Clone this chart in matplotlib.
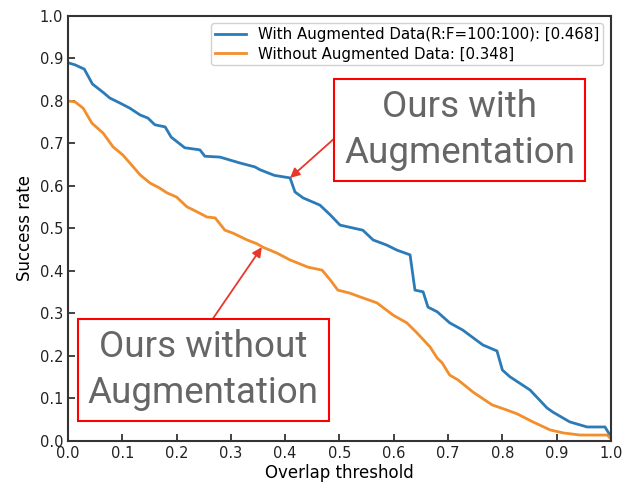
import numpy as np
import matplotlib
matplotlib.use("Agg")
import matplotlib.pyplot as plt

# success rate curves
x_with = [0.0, 0.013, 0.03, 0.045, 0.065, 0.077, 0.096, 0.114, 0.133, 0.147, 0.16, 0.179,
          0.19, 0.215, 0.243, 0.252, 0.28, 0.317, 0.344, 0.354, 0.38, 0.409, 0.418, 0.433,
          0.464, 0.483, 0.501, 0.543, 0.562, 0.587, 0.606, 0.63, 0.639, 0.654, 0.663, 0.68,
          0.703, 0.727, 0.764, 0.786, 0.79, 0.8, 0.814, 0.851, 0.882, 0.893, 0.924, 0.956,
          0.989, 1.0]
y_with = [0.89, 0.885, 0.875, 0.84, 0.82, 0.807, 0.795, 0.783, 0.767, 0.76, 0.744, 0.739,
          0.715, 0.69, 0.685, 0.67, 0.668, 0.654, 0.645, 0.638, 0.625, 0.619, 0.586, 0.572,
          0.555, 0.532, 0.508, 0.496, 0.473, 0.461, 0.449, 0.438, 0.355, 0.351, 0.315, 0.304,
          0.278, 0.261, 0.226, 0.214, 0.212, 0.167, 0.151, 0.12, 0.078, 0.068, 0.045, 0.033,
          0.033, 0.01]

x_without = [0.0, 0.013, 0.028, 0.044, 0.065, 0.083, 0.101, 0.114, 0.133, 0.151, 0.169, 0.182,
             0.2, 0.219, 0.238, 0.256, 0.271, 0.289, 0.304, 0.33, 0.348, 0.359, 0.385, 0.409,
             0.442, 0.468, 0.483, 0.497, 0.519, 0.538, 0.569, 0.599, 0.624, 0.643, 0.667, 0.68,
             0.689, 0.703, 0.718, 0.746, 0.781, 0.808, 0.827, 0.856, 0.888, 0.912, 0.943, 0.993,
             1.0]
y_without = [0.8, 0.798, 0.783, 0.748, 0.724, 0.692, 0.673, 0.654, 0.626, 0.607, 0.595, 0.584,
             0.574, 0.551, 0.539, 0.527, 0.525, 0.496, 0.489, 0.473, 0.464, 0.456, 0.442, 0.426,
             0.409, 0.402, 0.379, 0.355, 0.348, 0.339, 0.325, 0.296, 0.278, 0.254, 0.221, 0.195,
             0.184, 0.155, 0.144, 0.115, 0.085, 0.073, 0.064, 0.045, 0.026, 0.019, 0.014, 0.014,
             0.005]

label_with = "With Augmented Data(R:F=100:100): [0.468]"
label_without = "Without Augmented Data: [0.348]"
ticks = np.round(np.arange(0, 1.01, 0.1), 1)

fig = plt.figure(figsize=(6.26, 4.86), dpi=100)
ax = fig.add_axes([0.1086, 0.0926, 0.8674, 0.8745])
ax.plot(x_with, y_with, color="#2b7bb9", lw=2, label=label_with)
ax.plot(x_without, y_without, color="#f28e2b", lw=2, label=label_without)
ax.set_xlim(0, 1)
ax.set_ylim(0, 1)
ax.set_xticks(ticks)
ax.set_yticks(ticks)
ax.tick_params(direction="in", labelsize=10.5, length=5, width=1.2, colors="#222222")
for s in ax.spines.values():
    s.set_linewidth(1.5)
    s.set_color("#333333")
ax.set_xlabel("Overlap threshold", fontsize=12, labelpad=2)
ax.set_ylabel("Success rate", fontsize=12, labelpad=4)
ax.legend(loc="upper right", fontsize=10.8, frameon=True, framealpha=0.9,
          borderaxespad=0.5, handlelength=2.1, labelspacing=0.3, borderpad=0.25)

box = dict(boxstyle="square,pad=0.27", fc="white", ec="red", lw=1.5)
arrow = dict(arrowstyle="-|>", color="#e8382c", lw=1.3, mutation_scale=14, shrinkA=0, shrinkB=0)
ax.annotate("Ours with\nAugmentation", xy=(0.409, 0.619), xytext=(0.721, 0.732),
            fontsize=26.5, family="Roboto", color="#666666", ha="center", va="center",
            linespacing=1.36, bbox=box,
            arrowprops=dict(arrow, relpos=(0.0, 0.5)))
ax.annotate("Ours without\nAugmentation", xy=(0.357, 0.456), xytext=(0.249, 0.166),
            fontsize=26.5, family="Roboto", color="#666666", ha="center", va="center",
            linespacing=1.36, bbox=box,
            arrowprops=dict(arrow, relpos=(0.51, 1.0)))

fig.savefig("out.png", dpi=100)
